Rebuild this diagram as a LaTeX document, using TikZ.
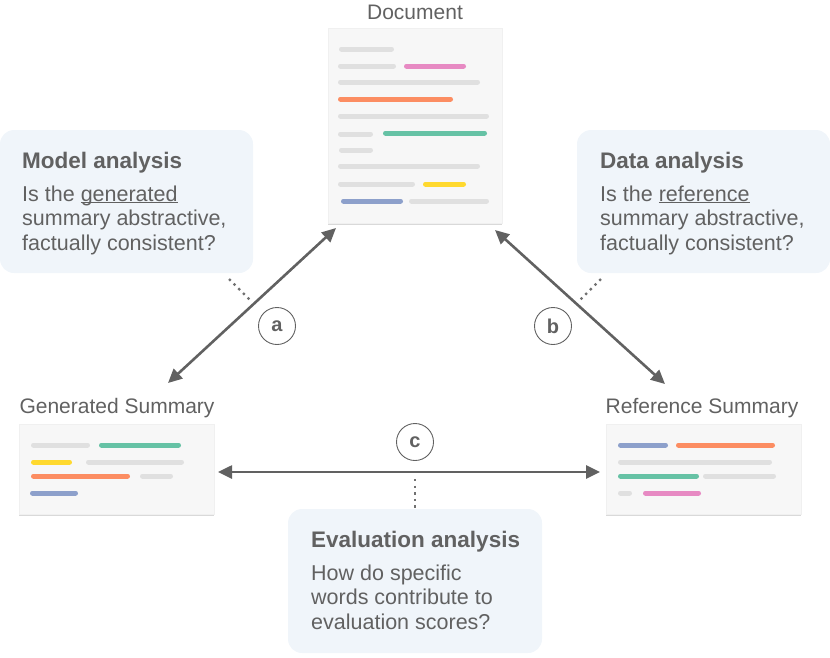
\documentclass[tikz,border=0pt]{standalone}
\usepackage{fontspec}
\setmainfont{Liberation Sans}
\usetikzlibrary{arrows.meta,shadows}
\definecolor{txt}{HTML}{616161}
\definecolor{arr}{HTML}{616161}
\definecolor{callfill}{HTML}{F0F5FA}
\definecolor{paper}{HTML}{F7F7F7}
\definecolor{bgray}{HTML}{E0E0E0}
\definecolor{bpink}{HTML}{E78AC3}
\definecolor{borange}{HTML}{FC8D62}
\definecolor{bgreen}{HTML}{66C2A5}
\definecolor{byellow}{HTML}{FFD92F}
\definecolor{bblue}{HTML}{8DA0CB}
\newlength\ulw
\newcommand\myul[1]{\settowidth\ulw{#1}\rlap{\rule[-2.3pt]{\ulw}{1pt}}#1}
\tikzset{
  paperbox/.style={draw=black!6,line width=0.6pt,fill=paper,drop shadow={shadow xshift=0pt,shadow yshift=-1.5pt,opacity=0.15,fill=black}},
  callout/.style={draw=none,fill=callfill,rounded corners=14pt},
  bar/.style={line width=5pt,line cap=round,shorten <=2.5pt,shorten >=2.5pt},
  head/.style={anchor=base west,font=\fontsize{22.5}{25}\selectfont\bfseries,text=txt,inner sep=0pt},
  body/.style={anchor=base west,font=\fontsize{21.5}{24.5}\selectfont,text=txt,inner sep=0pt,align=left},
  lbl/.style={anchor=base,font=\fontsize{21}{22}\selectfont,text=txt,inner sep=0pt},
  conn/.style={draw=arr,line width=2.6pt,{Triangle[length=14pt,width=13pt]}-{Triangle[length=14pt,width=13pt]}},
  dots/.style={draw=arr!90,line width=2.4pt,dash pattern=on 2.4pt off 4.2pt},
  tag/.style={circle,draw=arr,line width=0.9pt,minimum size=37pt,inner sep=0pt,text=txt,font=\fontsize{20}{20}\selectfont\bfseries}
}
\begin{document}
\begin{tikzpicture}[x=1pt,y=-1pt]
\useasboundingbox (0,0) rectangle (830,657);
% callouts
\path[callout] (0,130) rectangle (253,273);
\node[head] (mh) at (22,168) {Model analysis};
\node[body] (mb) at (22,250) {Is the \myul{generated}\\summary abstractive,\\factually consistent?};
\path[callout] (577,130) rectangle (830,273);
\node[head] (dh) at (600,168) {Data analysis};
\node[body] (db) at (600,250) {Is the \myul{reference}\\summary abstractive,\\factually consistent?};
\path[callout] (288,509) rectangle (542,653);
\node[head] (eh) at (311,547) {Evaluation analysis};
\node[body] (eb) at (311,629) {How do specific\\words contribute to\\evaluation scores?};
% document
\node[lbl] (doclbl) at (415,19) {Document};
\path[paperbox] (328,28) rectangle (502,223);
\node[inner sep=0pt,minimum width=174pt,minimum height=195pt] (doc) at (415,125.5) {};
\draw[bar,bgray] (339,49)--(394,49);
\draw[bar,bgray] (338,66)--(396,66); \draw[bar,bpink] (404,66)--(466,66);
\draw[bar,bgray] (338,82)--(480,82);
\draw[bar,borange] (338,99)--(453,99);
\draw[bar,bgray] (338,116)--(489,116);
\draw[bar,bgray] (338,134)--(373,134); \draw[bar,bgreen] (383,133)--(487,133);
\draw[bar,bgray] (339,150)--(373,150);
\draw[bar,bgray] (338,166)--(480,166);
\draw[bar,bgray] (338,184)--(415,184); \draw[bar,byellow] (423,184)--(466,184);
\draw[bar,bblue] (341,201)--(403,201); \draw[bar,bgray] (409,201)--(489,201);
% generated summary
\node[lbl] (genlbl) at (117,413) {Generated Summary};
\path[paperbox] (19,424) rectangle (214,514);
\node[inner sep=0pt,minimum width=195pt,minimum height=90pt] (gen) at (116.5,469) {};
\draw[bar,bgray] (31,445)--(90,445); \draw[bar,bgreen] (99,445)--(181,445);
\draw[bar,byellow] (31,462)--(72,462); \draw[bar,bgray] (86,462)--(184,462);
\draw[bar,borange] (31,476)--(130,476); \draw[bar,bgray] (140,476)--(173,476);
\draw[bar,bblue] (30,493)--(78,493);
% reference summary
\node[lbl] (reflbl) at (702,413) {Reference Summary};
\path[paperbox] (606,424) rectangle (801,514);
\node[inner sep=0pt,minimum width=195pt,minimum height=90pt] (ref) at (703.5,469) {};
\draw[bar,bblue] (618,445)--(668,445); \draw[bar,borange] (676,445)--(775,445);
\draw[bar,bgray] (618,462)--(772,462);
\draw[bar,bgreen] (618,476)--(699,476); \draw[bar,bgray] (703,476)--(776,476);
\draw[bar,bgray] (618,493)--(632,493); \draw[bar,bpink] (643,493)--(701,493);
% connectors
\coordinate (a1) at (168,383); \coordinate (a2) at (336,228);
\coordinate (b1) at (495,230); \coordinate (b2) at (665,384);
\coordinate (c1) at (218,472); \coordinate (c2) at (600,472);
\draw[conn] (a1) -- (a2);
\draw[conn] (b1) -- (b2);
\draw[conn] (c1) -- (c2);
\node[tag] (ta) at (277,326) {a};
\node[tag] (tb) at (553,326) {b};
\node[tag] (tc) at (415,442) {c};
\coordinate (da1) at (229,279); \coordinate (da2) at (252,302);
\coordinate (db1) at (601,279); \coordinate (db2) at (578,302);
\coordinate (dc1) at (415,479); \coordinate (dc2) at (415,508);
\draw[dots] (da1) -- (da2);
\draw[dots] (db1) -- (db2);
\draw[dots] (dc1) -- (dc2);
\end{tikzpicture}
\end{document}
